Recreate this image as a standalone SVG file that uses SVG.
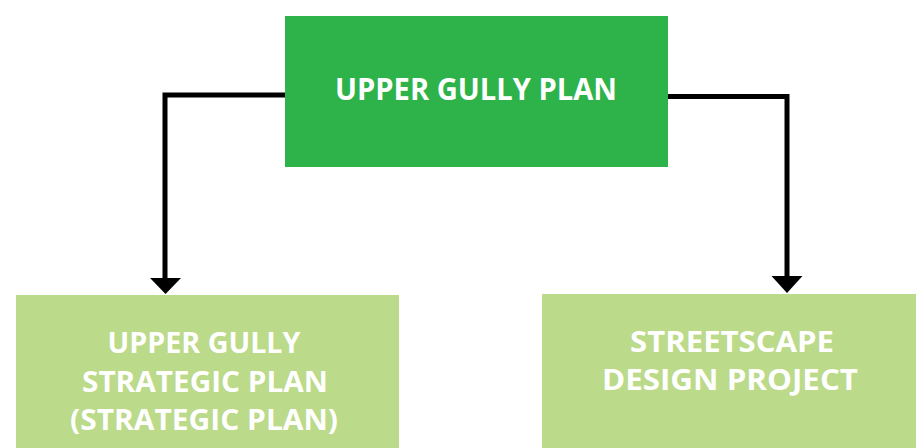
<svg xmlns="http://www.w3.org/2000/svg" width="916" height="448" viewBox="0 0 916 448">
<style>
.t{font-family:"Open Sans","Liberation Sans",sans-serif;font-weight:700;fill:#ffffff;text-anchor:middle}
.c{fill:none;stroke:#000000;stroke-width:5}
</style>
<rect width="916" height="448" fill="#ffffff"/>
<g id="connectors">
<polyline class="c" points="285,95 165,95 165,278"/>
<path d="M150,278 L181,278 L165.5,294 Z" fill="#000"/>
<polyline class="c" points="668,96.5 787,96.5 787,276"/>
<path d="M771.5,276 L802.5,276 L787,293 Z" fill="#000"/>
</g>
<g id="node-top">
<rect x="285" y="16" width="383" height="151" fill="#2eb34b"/>
<text class="t" x="476" y="100" font-size="30" textLength="282" lengthAdjust="spacingAndGlyphs">UPPER GULLY PLAN</text>
</g>
<g id="node-left">
<rect x="16" y="295" width="383" height="160" fill="#bbda8a"/>
<text class="t" x="204" y="353" font-size="28.5" textLength="193" lengthAdjust="spacingAndGlyphs">UPPER GULLY</text>
<text class="t" x="205" y="392" font-size="28.5" textLength="246" lengthAdjust="spacingAndGlyphs">STRATEGIC PLAN</text>
<text class="t" x="204" y="430" font-size="28.5" textLength="268" lengthAdjust="spacingAndGlyphs">(STRATEGIC PLAN)</text>
</g>
<g id="node-right">
<rect x="542" y="294" width="380" height="160" fill="#bbda8a"/>
<text class="t" x="732" y="352" font-size="28.5" textLength="204" lengthAdjust="spacingAndGlyphs">STREETSCAPE</text>
<text class="t" x="730" y="390" font-size="28.5" textLength="256" lengthAdjust="spacingAndGlyphs">DESIGN PROJECT</text>
</g>
</svg>
